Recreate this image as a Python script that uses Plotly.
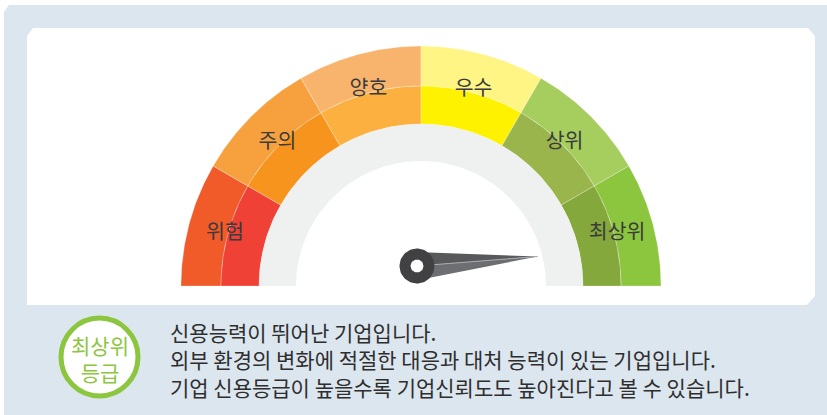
import numpy as np
import plotly.graph_objects as go

# 등급 구간 (왼쪽 -> 오른쪽)
grades = ["위험", "주의", "양호", "우수", "상위", "최상위"]
outer_colors = ["#F15A29", "#F7A13E", "#F8B46C", "#FFF584", "#A5CE5F", "#8CC63F"]
inner_colors = ["#EF4136", "#F7941E", "#FBB040", "#FFF200", "#9AB54B", "#84A83B"]
needle_value = 5.85   # 0 ~ 6 (구간 수 기준)

badge_lines = ["최상위", "등급"]
desc_lines = [
    "신용능력이 뛰어난 기업입니다.",
    "외부 환경의 변화에 적절한 대응과 대처 능력이 있는 기업입니다.",
    "기업 신용등급이 높을수록 기업신뢰도도 높아진다고 볼 수 있습니다.",
]

W, H = 827, 415
cx, cy = 421, 286
r_out, r_mid, r_in, r_grey = 240, 200, 162, 125
FONT = "Noto Sans CJK KR"


def ring(a0, a1, r0, r1, n=60, x0=cx, y0=cy):
    t = np.radians(np.linspace(a0, a1, n))
    xs = np.concatenate([x0 + r1 * np.cos(t), x0 + r0 * np.cos(t[::-1])])
    ys = np.concatenate([y0 - r1 * np.sin(t), y0 - r0 * np.sin(t[::-1])])
    return np.append(xs, xs[0]), np.append(ys, ys[0])


def poly(x, y, col, line=None):
    return go.Scatter(x=x, y=y, mode="lines", fill="toself", fillcolor=col,
                      line=line or dict(width=0), hoverinfo="skip", showlegend=False)


fig = go.Figure()
n = len(grades)
step = 180 / n
for i, g in enumerate(grades):
    a1 = 180 - i * step
    a0 = a1 - step
    for (r0, r1, col) in [(r_mid, r_out, outer_colors[i]), (r_in, r_mid, inner_colors[i])]:
        x, y = ring(a0, a1, r0, r1)
        fig.add_trace(poly(x, y, col, dict(color="rgba(255,255,255,0.45)", width=0.6)))

# 회색 안쪽 띠
x, y = ring(0, 180, r_grey, r_in)
fig.add_trace(poly(x, y, "#EFF1F0"))

# 구간 라벨
mids = np.radians([180 - (i + 0.5) * step for i in range(n)])
fig.add_trace(go.Scatter(x=cx + 203 * np.cos(mids), y=cy - 203 * np.sin(mids), mode="text",
                         text=grades, textfont=dict(family=FONT, size=20.5, color="#3B3B3B"),
                         hoverinfo="skip", showlegend=False))

# 바늘
px_, py_ = 417, 266
ang = np.radians(180 - needle_value * step)
L, hw = 121, 14
tx, ty = px_ + L * np.cos(ang), py_ - L * np.sin(ang)
nx, ny = -np.sin(ang), -np.cos(ang)  # 수직 방향 (화면 좌표)
fig.add_trace(poly([px_ + hw * nx, tx, px_, px_ + hw * nx],
                   [py_ + hw * ny, ty, py_, py_ + hw * ny], "#58595B"))
fig.add_trace(poly([px_ - hw * nx, tx, px_, px_ - hw * nx],
                   [py_ - hw * ny, ty, py_, py_ - hw * ny], "#6D6E71"))
fig.add_trace(go.Scatter(x=[px_ + 17, tx], y=[py_ - 17 * np.sin(ang), ty], mode="lines",
                         line=dict(color="#A7A9AC", width=1), hoverinfo="skip", showlegend=False))
x, y = ring(0, 360, 0, 17.5, n=80, x0=px_, y0=py_)
fig.add_trace(poly(x, y, "#414042"))
x, y = ring(0, 360, 0, 6.5, n=60, x0=px_, y0=py_)
fig.add_trace(poly(x, y, "white"))

# 배경
shapes = [
    dict(type="path", path="M 4,12 L 9,5 L 827,5 L 827,415 L 4,415 Z",
         fillcolor="#DCE6EF", line=dict(width=0), layer="below"),
    dict(type="path", path="M 27,36 L 33,28 L 808,28 L 815,36 L 815,296 L 807,305 L 27,305 Z",
         fillcolor="white", line=dict(width=0), layer="below"),
    dict(type="circle", x0=61, x1=138, y0=318, y1=396, fillcolor="white",
         line=dict(color="#8CC63F", width=5)),
]

annotations = [
    dict(x=99.5, y=358.5, text="<br>".join(badge_lines), showarrow=False, align="center",
         font=dict(family=FONT, size=21, color="#8CC63F")),
    dict(x=168, y=359, text="<br>".join(desc_lines), showarrow=False, xanchor="left",
         yanchor="middle", align="left", font=dict(family=FONT, size=21, color="#2E2E2E")),
]

fig.update_layout(
    width=W, height=H, margin=dict(l=0, r=0, t=0, b=0),
    paper_bgcolor="white", plot_bgcolor="rgba(0,0,0,0)",
    xaxis=dict(range=[0, W], visible=False, fixedrange=True),
    yaxis=dict(range=[H, 0], visible=False, fixedrange=True),
    shapes=shapes, annotations=annotations, showlegend=False,
)

fig.write_html("out.html", config={"displayModeBar": False},
               post_script="document.body.style.margin='0';")
